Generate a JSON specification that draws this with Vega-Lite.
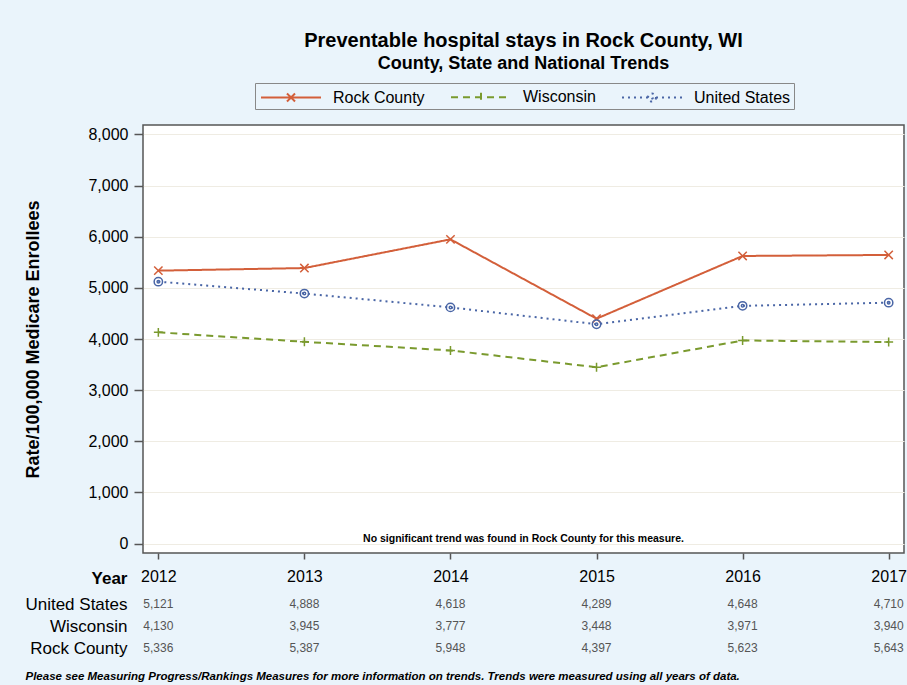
{
  "$schema": "https://vega.github.io/schema/vega-lite/v6.json",
  "background": "#EAF4FB",
  "padding": {"left": 24, "top": 30, "right": 2, "bottom": 4},
  "config": {
    "font": "Liberation Sans",
    "view": {"stroke": null},
    "axis": {"labelColor": "#000", "titleColor": "#000", "labelFont": "Liberation Sans", "titleFont": "Liberation Sans"}
  },
  "datasets": {
    "trend": [
      {"year": 2012, "series": "Rock County", "rate": 5336},
      {"year": 2013, "series": "Rock County", "rate": 5387},
      {"year": 2014, "series": "Rock County", "rate": 5948},
      {"year": 2015, "series": "Rock County", "rate": 4397},
      {"year": 2016, "series": "Rock County", "rate": 5623},
      {"year": 2017, "series": "Rock County", "rate": 5643},
      {"year": 2012, "series": "Wisconsin", "rate": 4130},
      {"year": 2013, "series": "Wisconsin", "rate": 3945},
      {"year": 2014, "series": "Wisconsin", "rate": 3777},
      {"year": 2015, "series": "Wisconsin", "rate": 3448},
      {"year": 2016, "series": "Wisconsin", "rate": 3971},
      {"year": 2017, "series": "Wisconsin", "rate": 3940},
      {"year": 2012, "series": "United States", "rate": 5121},
      {"year": 2013, "series": "United States", "rate": 4888},
      {"year": 2014, "series": "United States", "rate": 4618},
      {"year": 2015, "series": "United States", "rate": 4289},
      {"year": 2016, "series": "United States", "rate": 4648},
      {"year": 2017, "series": "United States", "rate": 4710}
    ],
    "note": [
      {"year": 2014.5, "rate": 100, "label": "No significant trend was found in Rock County for this measure."}
    ]
  },
  "bounds": "flush",
  "spacing": 40,
  "vconcat": [
    {
      "width": 761,
      "height": 428,
      "view": {"fill": "white", "stroke": "#555", "strokeWidth": 1.5},
      "title": {
        "text": "Preventable hospital stays in Rock County, WI",
        "subtitle": "County, State and National Trends",
        "anchor": "middle",
        "frame": "group",
        "fontSize": 20,
        "fontWeight": "bold",
        "subtitleFontSize": 18,
        "subtitleFontWeight": "bold",
        "subtitleColor": "#000",
        "color": "#000",
        "subtitlePadding": 4,
        "offset": 52
      },
      "layer": [
        {
          "data": {"name": "trend"},
          "mark": {"type": "line", "strokeWidth": 2},
          "encoding": {
            "x": {
              "field": "year", "type": "quantitative",
              "scale": {"domain": [2011.895, 2017.105], "nice": false, "zero": false},
              "axis": {
                "values": [2012, 2013, 2014, 2015, 2016, 2017], "format": "d",
                "domain": false, "grid": false, "tickSize": 6, "tickColor": "#555", "tickWidth": 1.5,
                "labelFontSize": 16, "labelPadding": 9, "labelFlush": false,
                "title": "Year", "titleFontSize": 17, "titleFontWeight": "bold",
                "titleX": -16, "titleY": 25, "titleAlign": "right", "titleBaseline": "middle", "titleAnchor": "start"
              }
            },
            "y": {
              "field": "rate", "type": "quantitative",
              "scale": {"domain": [-183, 8183], "nice": false, "zero": false},
              "axis": {
                "values": [0, 1000, 2000, 3000, 4000, 5000, 6000, 7000, 8000], "format": ",.0f",
                "domain": false, "grid": true, "gridColor": "#EFECE3", "tickSize": 9, "tickColor": "#555", "tickWidth": 1.5,
                "labelFontSize": 16, "labelPadding": 6,
                "title": "Rate/100,000 Medicare Enrollees", "titleFontSize": 18, "titleFontWeight": "bold", "titlePadding": 45
              }
            },
            "color": {
              "field": "series", "type": "nominal",
              "scale": {"domain": ["Rock County", "Wisconsin", "United States"], "range": ["#D35F3A", "#7A9A2E", "#4A66A6"]},
              "legend": {
                "title": null, "orient": "none", "legendX": 112, "legendY": -42, "direction": "horizontal",
                "strokeColor": "#888", "padding": 3, "labelFontSize": 16, "labelColor": "#000", "labelFont": "Liberation Sans",
                "symbolSize": 400, "symbolStrokeWidth": 2, "symbolOffset": 22, "labelOffset": 31, "columnPadding": 22,
                "encode": {
                  "symbols": {
                    "update": {
                      "shape": {"signal": "datum.value === 'Rock County' ? 'M-3,0H3M-0.4,-0.4L0.4,0.4M-0.4,0.4L0.4,-0.4' : datum.value === 'Wisconsin' ? 'M-3,0H3M0,-0.45V0.45' : 'M-3,0H-0.4M0.4,0H3M0.4,0A0.4,0.4 0 1,1 -0.4,0A0.4,0.4 0 1,1 0.4,0M0.1,0A0.1,0.1 0 1,1 -0.1,0A0.1,0.1 0 1,1 0.1,0'"},
                      "size": {"value": 400},
                      "fill": {"value": "transparent"},
                      "strokeWidth": {"value": 2}
                    }
                  }
                }
              }
            },
            "strokeDash": {
              "field": "series", "type": "nominal",
              "scale": {"domain": ["Rock County", "Wisconsin", "United States"], "range": [[1, 0], [7, 5], [2, 4]]}
            }
          }
        },
        {
          "data": {"name": "trend"},
          "transform": [{"filter": "datum.series === 'Rock County'"}],
          "mark": {"type": "point", "filled": false, "size": 70, "strokeWidth": 1.5, "opacity": 1, "color": "#D35F3A", "shape": "M-1,-1L1,1M-1,1L1,-1"},
          "encoding": {
            "x": {"field": "year", "type": "quantitative"},
            "y": {"field": "rate", "type": "quantitative"}
          }
        },
        {
          "data": {"name": "trend"},
          "transform": [{"filter": "datum.series === 'Wisconsin'"}],
          "mark": {"type": "point", "filled": false, "size": 80, "strokeWidth": 1.5, "opacity": 1, "color": "#7A9A2E", "shape": "M-1,0H1M0,-1V1"},
          "encoding": {
            "x": {"field": "year", "type": "quantitative"},
            "y": {"field": "rate", "type": "quantitative"}
          }
        },
        {
          "data": {"name": "trend"},
          "transform": [{"filter": "datum.series === 'United States'"}],
          "mark": {"type": "point", "filled": false, "size": 70, "strokeWidth": 1.5, "opacity": 1, "color": "#4A66A6", "shape": "M1,0A1,1 0 1,1 -1,0A1,1 0 1,1 1,0M0.3,0A0.3,0.3 0 1,1 -0.3,0A0.3,0.3 0 1,1 0.3,0"},
          "encoding": {
            "x": {"field": "year", "type": "quantitative"},
            "y": {"field": "rate", "type": "quantitative"}
          }
        },
        {
          "data": {"name": "note"},
          "mark": {"type": "text", "fontWeight": "bold", "fontSize": 10.5, "color": "#000"},
          "encoding": {
            "x": {"field": "year", "type": "quantitative"},
            "y": {"field": "rate", "type": "quantitative"},
            "text": {"field": "label"}
          }
        }
      ]
    },
    {
      "width": 761,
      "height": 66,
      "view": {"stroke": null, "fill": null},
      "data": {"name": "trend"},
      "mark": {"type": "text", "fontSize": 12, "color": "#555"},
      "encoding": {
        "x": {
          "field": "year", "type": "quantitative",
          "scale": {"domain": [2011.895, 2017.105], "nice": false, "zero": false},
          "axis": {
            "labels": false, "ticks": false, "domain": false, "grid": false,
            "title": "Please see Measuring Progress/Rankings Measures for more information on trends. Trends were measured using all years of data.",
            "titleX": -118, "titleY": 17, "titleAlign": "left", "titleAnchor": "start", "titleBaseline": "middle",
            "titleFontSize": 11.5, "titleFontStyle": "italic", "titleFontWeight": "bold"
          }
        },
        "y": {
          "field": "series", "type": "nominal",
          "scale": {"domain": ["United States", "Wisconsin", "Rock County"]},
          "axis": {"title": null, "ticks": false, "domain": false, "labelFontSize": 17, "labelPadding": 16, "labelColor": "#000"}
        },
        "text": {"field": "rate", "type": "quantitative", "format": ","}
      }
    }
  ]
}
